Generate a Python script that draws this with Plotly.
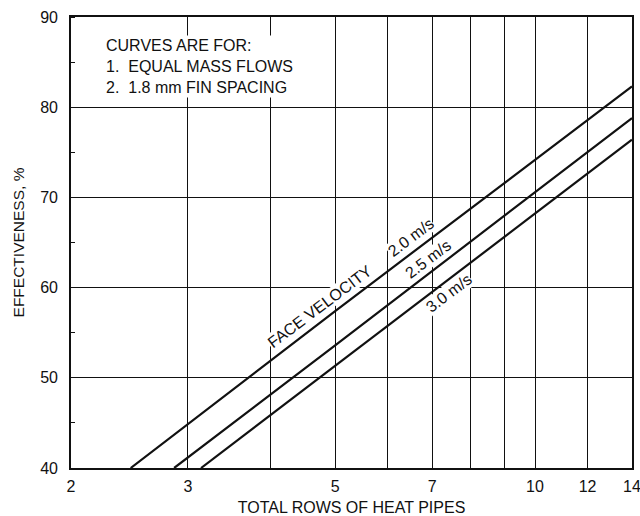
import math
import plotly.graph_objects as go

# ---- data ----
velocities = ["2.0 m/s", "2.5 m/s", "3.0 m/s"]
rows_20 = [2.46, 5.0, 14.0]
eff_20 = [40.0, 57.4, 82.3]
rows_25 = [2.86, 5.0, 14.0]
eff_25 = [40.0, 53.6, 78.8]
rows_30 = [3.14, 5.0, 14.0]
eff_30 = [40.0, 51.3, 76.4]

x_tick_vals = [2, 3, 4, 5, 6, 7, 8, 9, 10, 12, 14]
x_tick_text = ["2", "3", "", "5", "", "7", "", "", "10", "12", "14"]
y_tick_vals = [40, 50, 60, 70, 80, 90]

# label anchor points (data coords) for curve labels
label_text = ["FACE VELOCITY", "2.0 m/s", "2.5 m/s", "3.0 m/s"]
label_x = [4.74, 6.50, 6.89, 7.41]
label_y = [57.9, 65.5, 63.1, 59.3]

note_lines = ["CURVES ARE FOR:", "1.  EQUAL MASS FLOWS", "2.  1.8 mm FIN SPACING"]

FONT = "Liberation Sans, Arial, Helvetica, sans-serif"
INK = "#111111"

fig = go.Figure()
for xs, ys, name in [(rows_20, eff_20, velocities[0]),
                     (rows_25, eff_25, velocities[1]),
                     (rows_30, eff_30, velocities[2])]:
    fig.add_trace(go.Scatter(x=xs, y=ys, mode="lines", name=name,
                             line=dict(color=INK, width=2.2),
                             showlegend=False, hoverinfo="skip"))

for t, lx, ly in zip(label_text, label_x, label_y):
    fig.add_annotation(x=math.log10(lx), y=ly, xref="x", yref="y",
                       text=t, showarrow=False, textangle=-37,
                       font=dict(family=FONT, size=16, color=INK),
                       bgcolor="white", borderpad=0)

fig.add_annotation(x=0.059, y=0.96, xref="paper", yref="paper",
                   xanchor="left", yanchor="top", align="left",
                   text="<br>".join(note_lines), showarrow=False,
                   font=dict(family=FONT, size=16, color=INK),
                   bgcolor="white", borderpad=1)

fig.update_xaxes(type="log", range=[math.log10(2), math.log10(14)],
                 tickvals=x_tick_vals, ticktext=x_tick_text,
                 showgrid=True, gridcolor=INK, gridwidth=1.4,
                 showline=True, linecolor=INK, linewidth=1.6, mirror=True,
                 ticks="", ticklabelstandoff=3, ticklabeloverflow="allow",
                 tickfont=dict(family=FONT, size=16, color=INK),
                 title=dict(text="TOTAL ROWS OF HEAT PIPES", standoff=11,
                            font=dict(family=FONT, size=16, color=INK)),
                 zeroline=False, automargin=False)
fig.update_yaxes(range=[40, 90], tickvals=y_tick_vals,
                 showgrid=True, gridcolor=INK, gridwidth=1.4,
                 showline=True, linecolor=INK, linewidth=1.6, mirror=True,
                 ticks="", ticklabelstandoff=8, ticklabeloverflow="allow",
                 minor=dict(dtick=5, tick0=45, ticks="inside", ticklen=4,
                            tickcolor=INK, tickwidth=1.2, showgrid=False),
                 tickfont=dict(family=FONT, size=16, color=INK),
                 title=dict(text="EFFECTIVENESS, %", standoff=12,
                            font=dict(family=FONT, size=15.5, color=INK)),
                 zeroline=False, automargin=False)

fig.update_layout(width=640, height=516,
                  margin=dict(l=71, r=8, t=17, b=48),
                  paper_bgcolor="white", plot_bgcolor="white",
                  font=dict(family=FONT, color=INK))

fig.write_html("out.html")
